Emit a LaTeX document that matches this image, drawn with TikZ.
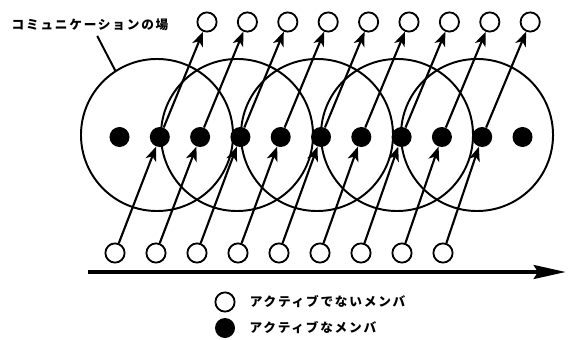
\documentclass[tikz,border=0pt]{standalone}
\usepackage{fontspec}
\usepackage{tikz}
\usetikzlibrary{arrows.meta,positioning}
\newfontfamily\jpfont[LetterSpace=14]{Noto Sans CJK JP}

\begin{document}
\begin{tikzpicture}[x=0.025cm,y=-0.025cm,every node/.style={font=\jpfont\bfseries\fontsize{9pt}{11pt}\selectfont},
   field/.style={circle,draw,line width=1.4pt,minimum size=3.8cm,inner sep=0pt,outer sep=0pt},
   inactive/.style={circle,draw,line width=1.3pt,fill=white,minimum size=0.48cm,inner sep=0pt},
   active/.style={circle,fill,minimum size=0.5cm,inner sep=0pt},
   member/.style={line width=1.5pt,-{Stealth[length=3.6mm,width=2.8mm,inset=1mm]}},
   timeline/.style={line width=3.2pt,-{Stealth[length=8mm,width=3.4mm,inset=1mm]}}]
  \useasboundingbox (0,0) rectangle (577,340);
  % fields of communication
  \foreach \k in {0,...,4}\node[field](f\k) at ({157+80*\k},135){};
  % members
  \foreach \i in {0,...,10}\node[active](d\i) at ({119.5+40.3*\i},137){};
  \foreach \i in {0,...,8}{
    \node[inactive](b\i) at ({115+41*\i},253){};
    \node[inactive](t\i) at ({207+40.4*\i},22){};
  }
  \foreach \i [evaluate=\i as \j using int(\i+1)] in {0,...,8}{
    \draw[member](b\i)--(d\j);
    \draw[member](d\j)--(t\i);
  }
  % label
  \node(lbl) at (90,25){コミュニケーションの場};
  \draw[line width=1.4pt]([xshift=0.18cm]lbl.south)--(f0.123);
  % time axis
  \coordinate(ts) at (88,272);
  \coordinate(te) at (566,272);
  \draw[timeline](ts)--(te);
  % legend
  \node[inactive](li) at (225,302){};
  \node[active](la) at (225,328){};
  \node[right=0.35cm of li,inner sep=0pt]{アクティブでないメンバ};
  \node[right=0.35cm of la,inner sep=0pt]{アクティブなメンバ};
\end{tikzpicture}
\end{document}
